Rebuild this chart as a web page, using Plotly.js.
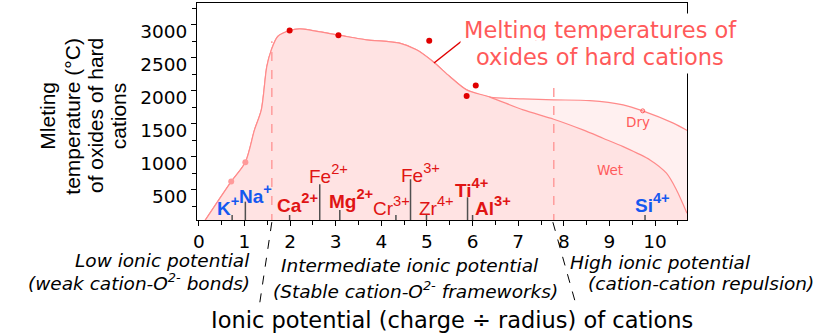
<!DOCTYPE html>
<html><head><meta charset="utf-8">
<script src="https://cdn.plot.ly/plotly-3.0.1.min.js"></script>
<style>html,body{margin:0;padding:0;background:#fff}#chart{width:819px;height:335px}</style>
</head><body><div id="chart"></div>
<script>
// ---- data ----
const meltX = [0.1, 0.71, 1.02, 1.22, 1.37, 1.49, 1.59, 1.73, 1.99, 2.21, 3.06, 3.67, 4.40, 4.77, 5.13, 5.5, 5.87, 6.38];
const meltY = [0, 626, 920, 1409, 1712, 2368, 2621, 2823, 2914, 2939, 2843, 2773, 2722, 2621, 2444, 2217, 2015, 1905];
const dryX = [7.11, 7.78, 8.57, 9.3, 9.73, 10.4, 10.72];
const dryY = [1879, 1864, 1853, 1788, 1697, 1511, 1394];
const wetX = [7.11, 7.78, 8.42, 8.86, 9.3, 9.89, 10.25, 10.47, 10.7];
const wetY = [1712, 1571, 1409, 1283, 1156, 955, 753, 500, 147];

const oxideDotX = [1.99, 3.06, 5.05, 5.87, 6.07];
const oxideDotY = [2914, 2843, 2757, 1924, 2080];
const alkaliDotX = [0.71, 1.02];
const alkaliDotY = [626, 920];
const silicaDotX = [9.73];
const silicaDotY = [1697];

const cations = ['K', 'Na', 'Ca', 'Fe', 'Mg', 'Cr', 'Fe', 'Zr', 'Ti', 'Al', 'Si'];
const charges = ['+', '+', '2+', '2+', '2+', '3+', '3+', '4+', '4+', '3+', '4+'];
const ionicPotential = [0.73, 1.02, 1.99, 2.65, 3.09, 4.32, 4.64, 4.99, 5.89, 6.0, 9.78];
const stemTop = [121, 323, 121, 586, 197, 121, 662, 121, 389, 121, 121];
const regionBounds = [1.6, 7.78];
const boundTop = [2750, 2045];

const xTicks = [0, 1, 2, 3, 4, 5, 6, 7, 8, 9, 10];
const yTicks = [500, 1000, 1500, 2000, 2500, 3000];

// ---- styles / layout helpers ----
const L = 197, R = 132, T = 3, B = 115, W = 819, H = 335;
const pw = W - L - R, ph = H - T - B;
const px = v => (v - L) / pw;
const py = v => (H - B - v) / ph;
const BLUE = '#1558f0', RED = '#e01414', LRED = '#ff5a5a', CURVE = '#ff8a8a';
const ARIAL = 'Liberation Sans, Arial, sans-serif';
const DEJA = 'DejaVu Sans, sans-serif';

// label style per cation: [left px, center y px, color, bold]
const labelStyle = [
  [215, 206, BLUE, true], [237, 193.5, BLUE, true], [275, 202.5, RED, true],
  [307, 174, RED, false], [327, 199, RED, true], [371, 206, RED, false],
  [399, 172.7, RED, false], [417, 206, RED, false], [453, 187.7, RED, true],
  [473, 206, RED, true], [633, 202.5, BLUE, true]
];

const allDryX = meltX.concat(dryX), allDryY = meltY.concat(dryY);
const allWetX = meltX.concat(wetX), allWetY = meltY.concat(wetY);

const stemX = [], stemY = [];
ionicPotential.forEach((v, i) => { stemX.push(v, v, null); stemY.push(0, stemTop[i], null); });

const traces = [
  {x: allDryX, y: allDryY, mode: 'lines', line: {shape: 'spline', smoothing: 0.8, color: CURVE, width: 1.2},
   fill: 'tozeroy', fillcolor: '#fff0f0', hoverinfo: 'skip'},
  {x: allWetX, y: allWetY, mode: 'lines', line: {shape: 'spline', smoothing: 0.8, color: CURVE, width: 1.2},
   fill: 'tozeroy', fillcolor: '#ffe3e3', hoverinfo: 'skip'},
  {x: stemX, y: stemY, mode: 'lines', line: {color: '#505050', width: 1.5}, hoverinfo: 'skip'},
  {x: oxideDotX, y: oxideDotY, mode: 'markers', marker: {color: '#e00000', size: 6}},
  {x: alkaliDotX, y: alkaliDotY, mode: 'markers', marker: {color: '#ff9a9a', size: 6}},
  {x: silicaDotX, y: silicaDotY, mode: 'markers', marker: {color: 'rgba(0,0,0,0)', size: 4, line: {color: '#ff5a5a', width: 1}}}
];

function note(xp, yp, text, font, xa, extra) {
  return Object.assign({xref: 'paper', yref: 'paper', x: px(xp), y: py(yp), xanchor: xa || 'center', yanchor: 'middle',
    text: text, showarrow: false, font: font}, extra || {});
}

const annotations = [];
cations.forEach((c, i) => {
  const s = labelStyle[i];
  let t = c + '<span style="font-size:21px"><sup>' + charges[i] + '</sup></span>';
  if (s[3]) t = '<b>' + t + '</b>';
  annotations.push(note(s[0], s[1], t, {family: ARIAL, size: 19, color: s[2]}, 'left'));
});
// y title lines
const yTitle = ['Mleting', 'temperature (°C)', 'of oxides of hard', 'cations'];
const yTitleX = [46.7, 71.7, 95, 118.3];
yTitle.forEach((t, i) => annotations.push(note(yTitleX[i], 116, t, {family: ARIAL, size: 21, color: '#000'}, 'center', {textangle: -90})));
// melting annotation
const MF = {family: DEJA, size: 22.5, color: LRED};
annotations.push(note(600, 30, 'Melting temperatures of', MF, 'center', {bgcolor: '#fff', borderpad: 3}));
annotations.push(note(599.5, 57, 'oxides of hard cations', MF, 'center', {bgcolor: '#fff', borderpad: 3}));
annotations.push(note(638, 122, 'Dry', {family: DEJA, size: 13.5, color: LRED}));
annotations.push(note(609.5, 170, 'Wet', {family: DEJA, size: 13.5, color: LRED}));
// region labels
const IT = {family: DEJA, size: 18.5, color: '#000', style: 'italic'};
annotations.push(note(252, 260, 'Low ionic potential', IT, 'right'));
annotations.push(note(252, 282, '(weak cation-O<sup>2-</sup> bonds)', IT, 'right'));
annotations.push(note(409.5, 265, 'Intermediate ionic potential', IT));
annotations.push(note(415, 290, '(Stable cation-O<sup>2-</sup> frameworks)', IT));
annotations.push(note(660, 262, 'High ionic potential', IT));
annotations.push(note(701, 283, '(cation-cation repulsion)', IT));
annotations.push(note(451.5, 320, 'Ionic potential (charge ÷ radius) of cations', {family: DEJA, size: 22.5, color: '#000'}));

const shapes = [];
regionBounds.forEach((b, i) => shapes.push({type: 'line', xref: 'x', yref: 'y', x0: b, x1: b, y0: 0, y1: boundTop[i],
  line: {color: '#ff9c9c', width: 1.5, dash: 'dash'}, layer: 'above'}));
shapes.push({type: 'line', xref: 'x', yref: 'paper', x0: regionBounds[0], x1: 1.33, y0: -0.01, y1: -0.39, line: {color: '#000', width: 1, dash: 'dash'}});
shapes.push({type: 'line', xref: 'x', yref: 'paper', x0: regionBounds[1] - 0.02, x1: 8.24, y0: -0.01, y1: -0.37, line: {color: '#000', width: 1, dash: 'dash'}});
shapes.push({type: 'line', xref: 'paper', yref: 'paper', x0: px(463), y0: py(40), x1: px(434), y1: py(63), line: {color: '#e00000', width: 1.5}});

const layout = {
  width: W, height: H, margin: {l: L, r: R, t: T, b: B}, showlegend: false,
  paper_bgcolor: '#fff', plot_bgcolor: '#fff',
  xaxis: {range: [-0.04, 10.7], tickvals: xTicks, ticks: 'outside', ticklen: 5, tickcolor: '#000',
    minor: {dtick: 0.5, ticks: 'outside', ticklen: 4, tickcolor: '#000'},
    showline: true, linecolor: '#000', linewidth: 1, mirror: true, showgrid: false, zeroline: false,
    tickfont: {family: DEJA, size: 18.5, color: '#000'}},
  yaxis: {range: [45, 3330], tickvals: yTicks, ticks: 'outside', ticklen: 5, tickcolor: '#000',
    minor: {dtick: 250, ticks: 'outside', ticklen: 4, tickcolor: '#000'},
    showline: true, linecolor: '#000', linewidth: 1, mirror: true, showgrid: false, zeroline: false,
    ticklabelshift: 7, tickfont: {family: DEJA, size: 18.5, color: '#000'}},
  annotations: annotations, shapes: shapes
};
Plotly.newPlot('chart', traces, layout, {staticPlot: true});
</script></body></html>
